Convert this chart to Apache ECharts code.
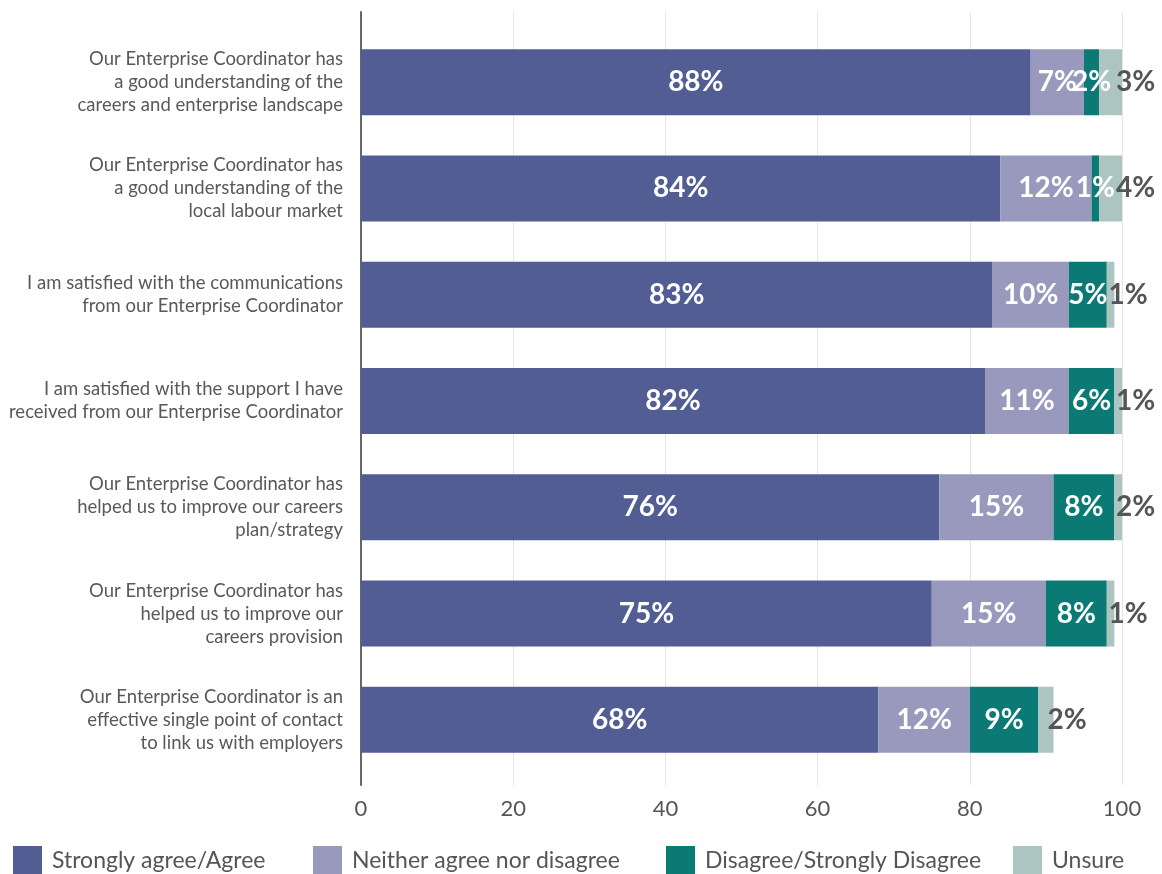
<!DOCTYPE html>
<html>
<head>
<meta charset="utf-8">
<script src="https://cdn.jsdelivr.net/npm/echarts@6/dist/echarts.min.js"></script>
<style>
  html, body { margin: 0; padding: 0; background: #fff; }
  #chart { width: 1162px; height: 874px; }
</style>
</head>
<body>
<div id="chart"></div>
<script>
// Survey statements (top to bottom)
const statements = [
  'Our Enterprise Coordinator has\na good understanding of the\ncareers and enterprise landscape',
  'Our Enterprise Coordinator has\na good understanding of the\nlocal labour market',
  'I am satisfied with the communications\nfrom our Enterprise Coordinator',
  'I am satisfied with the support I have\nreceived from our Enterprise Coordinator',
  'Our Enterprise Coordinator has\nhelped us to improve our careers\nplan/strategy',
  'Our Enterprise Coordinator has\nhelped us to improve our\ncareers provision',
  'Our Enterprise Coordinator is an\neffective single point of contact\nto link us with employers'
];

// Response shares (%) per statement
const agree    = [88, 84, 83, 82, 76, 75, 68];
const neither  = [7, 12, 10, 11, 15, 15, 12];
const disagree = [2, 1, 5, 6, 8, 8, 9];
const unsure   = [3, 4, 1, 1, 2, 1, 2];

const seriesNames = ['Strongly agree/Agree', 'Neither agree nor disagree', 'Disagree/Strongly Disagree', 'Unsure'];
const seriesColors = ['#525d94', '#9899bc', '#0b7a75', '#adc5c1'];
const xTicks = { min: 0, max: 100, interval: 20 };

const FONT = 'Lato, "Noto Sans", sans-serif';

// Left edge of each legend entry along the bottom row
const legendLefts = [13, 313, 666, 1013];

const chart = echarts.init(document.getElementById('chart'), null, { renderer: 'canvas' });

function barSeries(idx, values, last) {
  return {
    name: seriesNames[idx],
    type: 'bar',
    stack: 'total',
    xAxisIndex: 1,
    yAxisIndex: 1,
    barWidth: 66,
    data: values,
    itemStyle: { color: seriesColors[idx] },
    label: {
      show: true,
      position: last ? 'right' : 'inside',
      distance: 5,
      offset: last ? [-11, 0] : [0, 0],
      formatter: '{c}%',
      color: last ? '#555555' : '#ffffff',
      fontFamily: FONT,
      fontWeight: 'bold',
      fontSize: 28
    },
    emphasis: { disabled: true }
  };
}

const legends = seriesNames.map((name, i) => ({
  left: legendLefts[i],
  top: 846,
  padding: 0,
  itemWidth: 29,
  itemHeight: 29,
  icon: 'rect',
  selectedMode: false,
  data: [name],
  textStyle: { fontFamily: FONT, fontSize: 23, color: '#555555', padding: [0, 0, 0, 5] }
}));

chart.setOption({
  animation: false,
  textStyle: { fontFamily: FONT },
  legend: legends,
  grid: [
    { left: 361, right: 40, top: 12, bottom: 89 },
    { left: 361, right: 40, top: 29, bottom: 101 }
  ],
  xAxis: [
    {
      gridIndex: 0,
      type: 'value',
      min: xTicks.min,
      max: xTicks.max,
      interval: xTicks.interval,
      axisLine: { show: false },
      axisTick: { show: false },
      splitLine: { show: true, lineStyle: { color: '#e4e4e4', width: 1 } },
      axisLabel: { fontFamily: FONT, fontSize: 22, color: '#555555', margin: 13 }
    },
    {
      gridIndex: 1,
      type: 'value',
      min: xTicks.min,
      max: xTicks.max,
      show: false
    }
  ],
  yAxis: [
    {
      gridIndex: 0,
      type: 'value',
      axisLine: { show: true, lineStyle: { color: '#666666', width: 2 } },
      axisTick: { show: false },
      axisLabel: { show: false },
      splitLine: { show: false }
    },
    {
      gridIndex: 1,
      type: 'category',
      inverse: true,
      data: statements,
      axisLine: { show: false },
      axisTick: { show: false },
      axisLabel: {
        fontFamily: FONT,
        fontSize: 18.5,
        lineHeight: 23,
        color: '#595959',
        align: 'right',
        margin: 18,
        padding: [0, 0, 8, 0]
      }
    }
  ],
  series: [
    barSeries(0, agree, false),
    barSeries(1, neither, false),
    barSeries(2, disagree, false),
    barSeries(3, unsure, true)
  ]
});
</script>
</body>
</html>
